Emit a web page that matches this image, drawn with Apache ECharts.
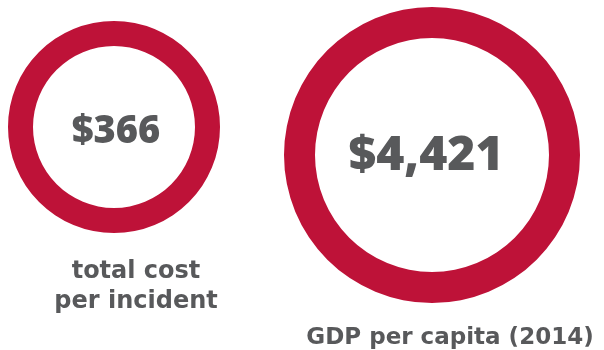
<!DOCTYPE html>
<html>
<head>
<meta charset="utf-8">
<script src="https://cdn.jsdelivr.net/npm/echarts@6/dist/echarts.min.js"></script>
<style>html,body{margin:0;padding:0;background:#fff}#c{width:604px;height:350px}</style>
</head>
<body>
<div id="c"></div>
<script>
const names = ['total cost\nper incident', 'GDP per capita (2014)'];
const values = [366, 4421];
const ringColor = '#BE1238';
const textColor = '#58595B';
const numFont = '"Open Sans", sans-serif';
const capFont = '"DejaVu Sans", sans-serif';

const layouts = [
  {center: [114, 127], radius: [81, 106], size: 38, offset: [2, 5], label: {left: 136, top: 257, size: 24}},
  {center: [432, 155], radius: [117, 148], size: 48, offset: [-6, 1], label: {left: 450, top: 323, size: 23}}
];

function fmt(v) { return '$' + v.toLocaleString('en-US'); }

const chart = echarts.init(document.getElementById('c'), null, {renderer: 'canvas'});
chart.setOption({
  animation: false,
  backgroundColor: '#fff',
  title: names.map((n, i) => ({
    text: n,
    left: layouts[i].label.left,
    top: layouts[i].label.top,
    padding: 0,
    textAlign: 'center',
    textStyle: {color: textColor, fontFamily: capFont, fontWeight: 'bold', fontSize: layouts[i].label.size, lineHeight: 30}
  })),
  series: values.map((v, i) => ({
    type: 'pie',
    silent: true,
    center: layouts[i].center,
    radius: layouts[i].radius,
    itemStyle: {color: ringColor},
    label: {
      show: true, position: 'center',
      offset: layouts[i].offset,
      formatter: p => fmt(p.value),
      color: textColor, fontFamily: numFont, fontWeight: 800, fontSize: layouts[i].size
    },
    labelLine: {show: false},
    data: [{name: names[i], value: v}]
  }))
});
</script>
</body>
</html>
